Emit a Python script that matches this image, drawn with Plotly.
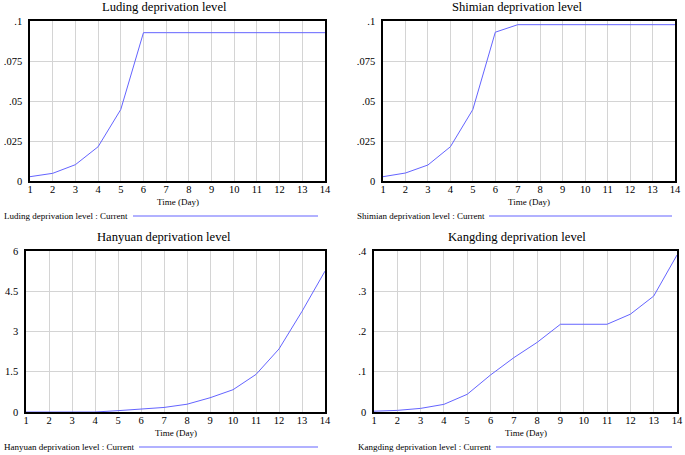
import plotly.graph_objects as go

days = list(range(1, 15))

luding = [0.0027, 0.0048, 0.0102, 0.0214, 0.0447, 0.0927, 0.0927, 0.0927,
          0.0927, 0.0927, 0.0927, 0.0927, 0.0927, 0.0927]
shimian = [0.0027, 0.0050, 0.0100, 0.0214, 0.0447, 0.0930, 0.0977, 0.0977,
           0.0977, 0.0977, 0.0977, 0.0977, 0.0977, 0.0977]
hanyuan = [0.0, 0.0, 0.0, 0.0, 0.05, 0.11, 0.17, 0.29, 0.53, 0.83, 1.40,
           2.35, 3.75, 5.25]
kangding = [0.002, 0.004, 0.009, 0.019, 0.044, 0.092, 0.135, 0.173, 0.218,
            0.218, 0.218, 0.243, 0.288, 0.390]

titles = ["Luding deprivation level", "Shimian deprivation level",
          "Hanyuan deprivation level", "Kangding deprivation level"]
legend_labels = [t + " : Current" for t in titles]
x_title = "Time (Day)"

y_ticks = [[0, 0.025, 0.05, 0.075, 0.1], [0, 0.025, 0.05, 0.075, 0.1],
           [0, 1.5, 3, 4.5, 6], [0, 0.1, 0.2, 0.3, 0.4]]
y_ticktext = [["0", ".025", ".05", ".075", ".1"], ["0", ".025", ".05", ".075", ".1"],
              ["0", "1.5", "3", "4.5", "6"], ["0", ".1", ".2", ".3", ".4"]]
series = [luding, shimian, hanyuan, kangding]

W, H = 685, 455
# plot areas in pixels: (x0, x1, y0_top, y1_bottom)
areas = [(30, 325, 21, 181), (383, 675, 21, 181),
         (26, 325, 251, 412), (374, 677, 251, 412)]
title_cx = [164, 517, 164, 517]
legend_pos = [(2, 133, 318, 216), (355, 489, 672, 216),
              (2, 139, 318, 447), (356, 496, 672, 447)]

FONT = "Liberation Serif, Times New Roman, Times, serif"
LINE = "#6464ff"

fig = go.Figure()
annotations = []
shapes = []
for i in range(4):
    xa = "x" if i == 0 else f"x{i+1}"
    ya = "y" if i == 0 else f"y{i+1}"
    fig.add_trace(go.Scatter(x=days, y=series[i], mode="lines",
                             line=dict(color=LINE, width=1),
                             xaxis=xa, yaxis=ya, showlegend=False,
                             cliponaxis=False))
    x0, x1, yt, yb = areas[i]
    dom_x = [x0 / W, x1 / W]
    dom_y = [1 - yb / H, 1 - yt / H]
    key = "" if i == 0 else str(i + 1)
    fig.layout["xaxis" + key] = dict(
        domain=dom_x, anchor=ya, range=[1, 14], tickvals=days,
        showgrid=True, gridcolor="#d4d4d4", gridwidth=1,
        showline=True, mirror=True, linecolor="black", linewidth=1.5,
        zeroline=False, ticks="", ticklen=0, automargin=False,
        ticklabelstandoff=-2,
        tickfont=dict(family=FONT, size=10.5, color="black"))
    fig.layout["yaxis" + key] = dict(
        domain=dom_y, anchor=xa, range=[y_ticks[i][0], y_ticks[i][-1]],
        tickvals=y_ticks[i], ticktext=y_ticktext[i],
        showgrid=True, gridcolor="#d4d4d4", gridwidth=1,
        showline=True, mirror=True, linecolor="black", linewidth=1.5,
        zeroline=False, ticks="", ticklen=0, automargin=False,
        ticklabelstandoff=4,
        tickfont=dict(family=FONT, size=10.5, color="black"))
    annotations.append(dict(
        text=titles[i], x=title_cx[i] / W, y=1 - (yt - 14) / H,
        xref="paper", yref="paper", showarrow=False,
        font=dict(family=FONT, size=12.6, color="black"),
        xanchor="center", yanchor="middle"))
    annotations.append(dict(
        text=x_title, x=(x0 + x1) / 2 / W, y=1 - (yb + 21) / H,
        xref="paper", yref="paper", showarrow=False,
        font=dict(family=FONT, size=9, color="black"),
        xanchor="center", yanchor="middle"))
    lx, l0, l1, ly = legend_pos[i]
    annotations.append(dict(
        text=legend_labels[i], x=lx / W, y=1 - ly / H,
        xref="paper", yref="paper", showarrow=False,
        font=dict(family=FONT, size=9, color="black"),
        xanchor="left", yanchor="middle"))
    shapes.append(dict(type="line", xref="paper", yref="paper",
                       x0=l0 / W, x1=l1 / W, y0=1 - ly / H, y1=1 - ly / H,
                       line=dict(color=LINE, width=1.2)))

fig.update_layout(width=W, height=H, margin=dict(l=0, r=0, t=0, b=0, pad=0),
                  paper_bgcolor="white", plot_bgcolor="white",
                  annotations=annotations, shapes=shapes)

fig.write_html("out.html", config={"displayModeBar": False},
               post_script="document.body.style.margin='0';"
                           "document.body.style.padding='0';"
                           "document.body.style.overflow='hidden';")
